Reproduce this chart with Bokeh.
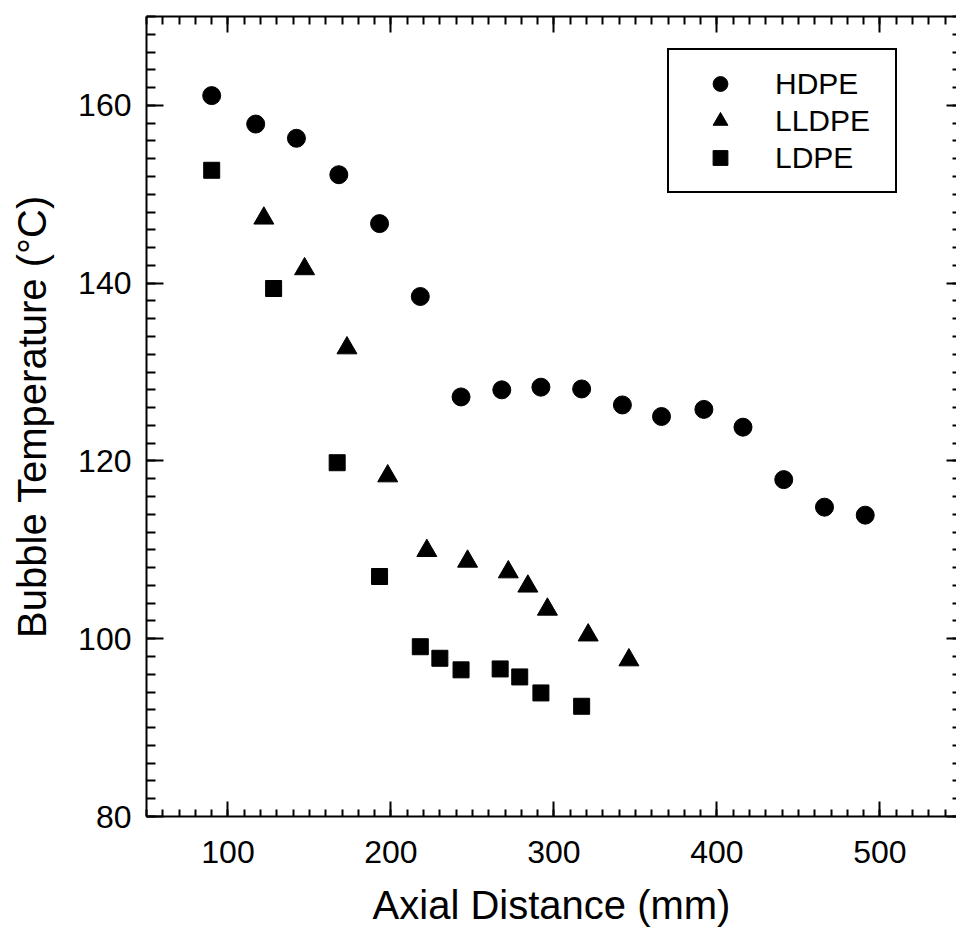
from bokeh.plotting import figure
from bokeh.models import (LinearAxis, SingleIntervalTicker, Range1d, Legend,
                          LegendItem, ColumnDataSource)
from bokeh.embed import file_html
from bokeh.resources import INLINE

# Bubble temperature profiles along the film bubble for three polyethylenes
hdpe_x = [90, 117, 142, 168, 193, 218, 243, 268, 292, 317, 342, 366, 392, 416, 441, 466, 491]
hdpe_t = [161.1, 157.9, 156.3, 152.2, 146.7, 138.5, 127.2, 128.0, 128.3, 128.1,
          126.3, 125.0, 125.8, 123.8, 117.9, 114.8, 113.9]

lldpe_x = [122, 147, 173, 198, 222, 247, 272, 284, 296, 321, 346]
lldpe_t = [147.3, 141.6, 132.7, 118.3, 109.9, 108.7, 107.5, 105.9, 103.3, 100.4, 97.6]

ldpe_x = [90, 128, 167, 193, 218, 230, 243, 267, 279, 292, 317]
ldpe_t = [152.7, 139.4, 119.8, 107.0, 99.1, 97.8, 96.5, 96.6, 95.7, 93.9, 92.4]

series_names = ["HDPE", "LLDPE", "LDPE"]
x_ticks_interval = 100
y_ticks_interval = 20

FONT = "Liberation Sans"

p = figure(width=956, height=940, output_backend="svg", toolbar_location=None,
           x_range=Range1d(50, 547), y_range=Range1d(80, 170),
           x_axis_type=None, y_axis_type=None,
           min_border_left=146, min_border_right=0, min_border_top=16,
           min_border_bottom=124)
p.background_fill_color = "white"
p.border_fill_color = "white"
p.outline_line_color = None
p.xgrid.visible = False
p.ygrid.visible = False


def styled_axis(ticker, labels=True, line=True, major_in=16, minor_in=8):
    ax = LinearAxis(ticker=ticker)
    ax.major_tick_in = major_in
    ax.major_tick_out = 0
    ax.minor_tick_in = minor_in
    ax.minor_tick_out = 0
    ax.major_tick_line_width = 2
    ax.minor_tick_line_width = 2
    ax.major_tick_line_color = "black"
    ax.minor_tick_line_color = "black"
    ax.axis_line_width = 2
    ax.axis_line_color = "black" if line else None
    if labels:
        ax.major_label_text_font = FONT
        ax.major_label_text_font_size = "32px"
        ax.major_label_text_color = "black"
        ax.axis_label_text_font = FONT
        ax.axis_label_text_font_size = "40px"
        ax.axis_label_text_font_style = "normal"
        ax.axis_label_text_color = "black"
    else:
        ax.major_label_text_font_size = "0px"
        ax.major_label_standoff = 0
    return ax


def xt():
    return SingleIntervalTicker(interval=x_ticks_interval, num_minor_ticks=10)


def yt():
    return SingleIntervalTicker(interval=y_ticks_interval, num_minor_ticks=10)


bottom = styled_axis(xt(), major_in=15, minor_in=7)
bottom.axis_label = "Axial Distance (mm)"
bottom.major_label_standoff = 24
bottom.axis_label_standoff = 17
p.add_layout(bottom, "below")

left = styled_axis(yt(), major_in=17, minor_in=9)
left.axis_label = "Bubble Temperature (°C)"
left.major_label_standoff = 15
left.axis_label_standoff = 21
p.add_layout(left, "left")

top = styled_axis(xt(), labels=False)
p.add_layout(top, "above")

right = styled_axis(yt(), labels=False, line=False, major_in=10, minor_in=4)
p.add_layout(right, "right")

src_h = ColumnDataSource(dict(x=hdpe_x, y=hdpe_t))
src_ll = ColumnDataSource(dict(x=lldpe_x, y=lldpe_t))
src_l = ColumnDataSource(dict(x=ldpe_x, y=ldpe_t))

r_h = p.scatter("x", "y", source=src_h, marker="circle", size=18,
                fill_color="black", line_color="black")
r_ll = p.scatter("x", "y", source=src_ll, marker="triangle", size=20,
                 fill_color="black", line_color="black")
r_l = p.scatter("x", "y", source=src_l, marker="square", size=16,
                fill_color="black", line_color="black")

legend = Legend(items=[LegendItem(label=series_names[0], renderers=[r_h]),
                       LegendItem(label=series_names[1], renderers=[r_ll]),
                       LegendItem(label=series_names[2], renderers=[r_l])],
                location=(521, 623))
legend.label_text_font = FONT
legend.label_text_font_size = "30px"
legend.label_text_color = "black"
legend.glyph_width = 72
legend.glyph_height = 37
legend.label_height = 37
legend.label_width = 105
legend.label_standoff = 19
legend.spacing = 0
legend.padding = 15
legend.margin = 0
legend.border_line_color = "black"
legend.border_line_alpha = 1
legend.border_line_width = 2
legend.background_fill_alpha = 1
p.add_layout(legend, "center")

open("out.html", "w").write(file_html(p, INLINE))
